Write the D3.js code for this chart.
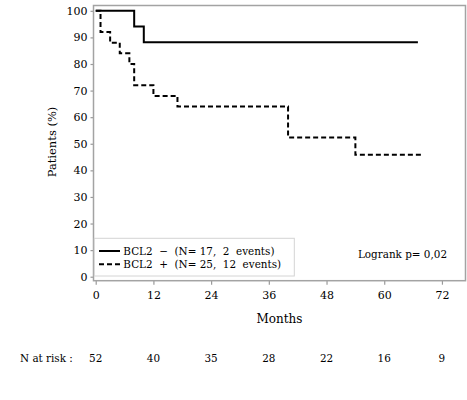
<!DOCTYPE html>
<html>
<head>
<meta charset="utf-8">
<script src="https://cdn.jsdelivr.net/npm/d3@7"></script>
<style>
  body { margin: 0; background: #fff; }
  svg text { font-family: "DejaVu Serif", serif; fill: #000; }
</style>
</head>
<body>
<div id="chart"></div>
<script>
// data
const monthTicks = [0, 12, 24, 36, 48, 60, 72];
const percentTicks = [0, 10, 20, 30, 40, 50, 60, 70, 80, 90, 100];
const atRisk = [52, 40, 35, 28, 22, 16, 9];

const negMonths = [0, 8, 10, 67];
const negSurv = [100, 94.1, 88.2, 88.2];
const posMonths = [0, 1, 3, 5, 7, 8, 12, 17, 40, 54, 68];
const posSurv = [100, 92, 88, 84, 80, 72, 68, 64, 52.4, 45.9, 45.9];

const legendLabels = ['BCL2  \u2212  (N= 17,  2  events)', 'BCL2  +  (N= 25,  12  events)'];
const pvalueText = 'Logrank p= 0,02';

const width = 467, height = 400;
const frame = { left: 93.5, right: 465.5, top: 5.5, bottom: 280.7 };

const svg = d3.select('#chart').append('svg')
    .attr('width', width)
    .attr('height', height);

const x = d3.scaleLinear().domain([-0.46, 76.9]).range([frame.left, frame.right]);
const y = d3.scaleLinear().domain([-1.5, 102]).range([frame.bottom, frame.top]);

// axes (ticks only, frame drawn separately)
const yAxis = svg.append('g')
    .attr('transform', `translate(${frame.left},0)`)
    .call(d3.axisLeft(y).tickValues(percentTicks).tickSize(3).tickPadding(3));
const xAxis = svg.append('g')
    .attr('transform', `translate(0,${frame.bottom})`)
    .call(d3.axisBottom(x).tickValues(monthTicks).tickSize(4).tickPadding(7));

[yAxis, xAxis].forEach(g => {
    g.select('.domain').remove();
    g.selectAll('line').attr('stroke', '#9a9a9a').attr('stroke-width', 1.2);
    g.selectAll('text').style('font-family', '"DejaVu Serif", serif').style('font-size', '11px').attr('fill', '#000');
});

svg.append('rect')
    .attr('x', frame.left)
    .attr('y', frame.top)
    .attr('width', frame.right - frame.left)
    .attr('height', frame.bottom - frame.top)
    .attr('fill', 'none')
    .attr('stroke', '#a3a3a3')
    .attr('stroke-width', 1.5);

// curves
const line = d3.line()
    .x(d => x(d[0]))
    .y(d => y(d[1]))
    .curve(d3.curveStepAfter);

const curves = [
    { pts: d3.zip(negMonths, negSurv), dash: null },
    { pts: d3.zip(posMonths, posSurv), dash: '5,3' }
];

svg.selectAll('.km')
    .data(curves)
    .enter()
    .append('path')
    .attr('class', 'km')
    .attr('d', d => line(d.pts))
    .attr('fill', 'none')
    .attr('stroke', '#000')
    .attr('stroke-width', 2)
    .attr('stroke-dasharray', d => d.dash);

// legend
const legend = svg.append('g').attr('transform', 'translate(94.3,238.3)');
legend.append('rect')
    .attr('width', 200)
    .attr('height', 37.7)
    .attr('fill', '#fff')
    .attr('stroke', '#d4d4d4')
    .attr('stroke-width', 1);

legendLabels.forEach((label, i) => {
    const ly = 12.7 + i * 13.3;
    legend.append('line')
        .attr('x1', 4.7).attr('x2', 25.7)
        .attr('y1', ly).attr('y2', ly)
        .attr('stroke', '#000')
        .attr('stroke-width', 2)
        .attr('stroke-dasharray', curves[i].dash);
    legend.append('text')
        .attr('x', 29)
        .attr('y', ly)
        .attr('dy', '0.35em')
        .style('font-size', '10.4px')
        .style('white-space', 'pre')
        .text(label);
});

svg.append('text')
    .attr('x', 447)
    .attr('y', 254.3)
    .attr('dy', '0.35em')
    .attr('text-anchor', 'end')
    .style('font-size', '10.4px')
    .style('white-space', 'pre')
    .text(pvalueText);

// axis titles
svg.append('text')
    .attr('x', (frame.left + frame.right) / 2)
    .attr('y', 319)
    .attr('dy', '0.35em')
    .attr('text-anchor', 'middle')
    .style('font-size', '12px')
    .text('Months');

svg.append('text')
    .attr('transform', 'translate(52,142) rotate(-90)')
    .attr('dy', '0.35em')
    .attr('text-anchor', 'middle')
    .style('font-size', '11.5px')
    .style('white-space', 'pre')
    .text('Patients (%)');

// number at risk row
svg.append('text')
    .attr('x', 20)
    .attr('y', 358)
    .attr('dy', '0.35em')
    .style('font-size', '10.4px')
    .style('white-space', 'pre')
    .text('N at risk :');

svg.selectAll('.risk')
    .data(atRisk)
    .enter()
    .append('text')
    .attr('class', 'risk')
    .attr('x', (d, i) => x(monthTicks[i]))
    .attr('y', 358)
    .attr('dy', '0.35em')
    .attr('text-anchor', 'middle')
    .style('font-size', '10.4px')
    .text(d => d);
</script>
</body>
</html>
